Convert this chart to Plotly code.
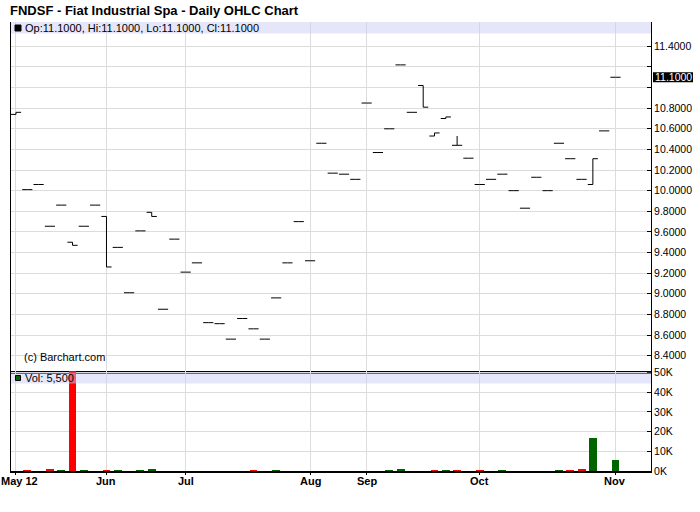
import plotly.graph_objects as go
from plotly.subplots import make_subplots

# ---------------- data ----------------
opens = [10.74, 10.01, 10.06, 9.655, 9.86, 9.50, 9.655, 9.86, 9.75, 9.45,
         9.01, 9.61, 9.79, 8.85, 9.53, 9.21, 9.30, 8.72, 8.71, 8.56,
         8.76, 8.66, 8.56, 8.96, 9.30, 9.70, 9.32, 10.46, 10.17, 10.16,
         10.11, 10.85, 10.37, 10.60, 11.22, 10.76, 11.02, 10.53, 10.70, 10.44,
         10.315, 10.06, 10.11, 10.16, 10.00, 9.83, 10.13, 10.00, 10.46, 10.31,
         10.11, 10.06, 10.58, 11.10]
highs = [10.76, 10.01, 10.06, 9.655, 9.86, 9.50, 9.655, 9.86, 9.75, 9.45,
         9.01, 9.61, 9.79, 8.85, 9.53, 9.21, 9.30, 8.72, 8.71, 8.56,
         8.76, 8.66, 8.56, 8.96, 9.30, 9.70, 9.32, 10.46, 10.17, 10.16,
         10.11, 10.85, 10.37, 10.60, 11.22, 10.76, 11.02, 10.56, 10.715, 10.53,
         10.315, 10.06, 10.11, 10.16, 10.00, 9.83, 10.13, 10.00, 10.46, 10.31,
         10.11, 10.31, 10.58, 11.10]
lows = [10.74, 10.01, 10.06, 9.655, 9.86, 9.47, 9.655, 9.86, 9.26, 9.45,
        9.01, 9.61, 9.75, 8.85, 9.53, 9.21, 9.30, 8.72, 8.71, 8.56,
        8.76, 8.66, 8.56, 8.96, 9.30, 9.70, 9.32, 10.46, 10.17, 10.16,
        10.11, 10.85, 10.37, 10.60, 11.22, 10.76, 10.81, 10.53, 10.70, 10.44,
        10.315, 10.06, 10.11, 10.16, 10.00, 9.83, 10.13, 10.00, 10.46, 10.31,
        10.11, 10.06, 10.58, 11.10]
closes = [10.76, 10.01, 10.06, 9.655, 9.86, 9.47, 9.655, 9.86, 9.26, 9.45,
          9.01, 9.61, 9.75, 8.85, 9.53, 9.21, 9.30, 8.72, 8.71, 8.56,
          8.76, 8.66, 8.56, 8.96, 9.30, 9.70, 9.32, 10.46, 10.17, 10.16,
          10.11, 10.85, 10.37, 10.60, 11.22, 10.76, 10.81, 10.56, 10.715, 10.44,
          10.315, 10.06, 10.11, 10.16, 10.00, 9.83, 10.13, 10.00, 10.46, 10.31,
          10.11, 10.31, 10.58, 11.10]
volumes = [0, 500, 0, 1000, 500, 60000, 500, 0, 500, 500,
           0, 500, 1000, 0, 0, 0, 0, 0, 0, 0,
           0, 500, 0, 500, 0, 0, 0, 0, 0, 0,
           0, 0, 0, 500, 1000, 0, 0, 500, 500, 500,
           0, 500, 0, 500, 0, 0, 0, 0, 500, 500,
           1000, 16700, 0, 5500]

month_tick_idx = [0, 8, 15, 26, 31, 41, 53]
month_labels = ["May 12", "Jun", "Jul", "Aug", "Sep", "Oct", "Nov"]

price_ticks = [8.4, 8.6, 8.8, 9.0, 9.2, 9.4, 9.6, 9.8, 10.0, 10.2, 10.4, 10.6, 10.8, 11.0, 11.2, 11.4]
price_ticktext = ["8.4000", "8.6000", "8.8000", "9.0000", "9.2000", "9.4000", "9.6000", "9.8000",
                  "10.0000", "10.2000", "10.4000", "10.6000", "10.8000", "", "", "11.4000"]
vol_ticks = [0, 10000, 20000, 30000, 40000, 50000]
vol_ticktext = ["0K", "10K", "20K", "30K", "40K", "50K"]

last_price = 11.10
title_text = "FNDSF - Fiat Industrial Spa - Daily OHLC Chart"
price_legend = "Op:11.1000, Hi:11.1000, Lo:11.1000, Cl:11.1000"
vol_legend = "Vol: 5,500"
credit = "(c) Barchart.com"

# ---------------- layout helpers ----------------
W, H = 700, 512
PX_L, PX_R, PX_T, PX_B = 11, 651, 22, 471
PX_SPLIT = 371


def fx(px):
    return (px - PX_L) / (PX_R - PX_L)


def fy(py):
    return (PX_B - py) / (PX_B - PX_T)


FONT = "Liberation Sans, Arial, sans-serif"
GRID = "#dcdcdc"
AXFONT = 10.5

x = list(range(len(closes)))
vol_colors = ["#006400"]
for i in range(1, len(closes)):
    vol_colors.append("#006400" if closes[i] >= closes[i - 1] else "#ff0000")

fig = make_subplots(rows=2, cols=1, shared_xaxes=True, vertical_spacing=0,
                    row_heights=[PX_SPLIT - PX_T, PX_B - PX_SPLIT])

fig.add_trace(go.Ohlc(x=x, open=opens, high=highs, low=lows, close=closes,
                      increasing=dict(line=dict(color="black", width=1)),
                      decreasing=dict(line=dict(color="black", width=1)),
                      tickwidth=0.45, hoverinfo="skip", showlegend=False),
              row=1, col=1)
fig.add_trace(go.Bar(x=x, y=volumes, marker=dict(color=vol_colors, line=dict(width=0)),
                     width=0.7, hoverinfo="skip", showlegend=False),
              row=2, col=1)

# month labels drawn as annotations (the first one sits at the page edge)
xr = [-0.44, 56.14]
fig.update_xaxes(range=xr, tickvals=month_tick_idx, showticklabels=False, automargin=False,
                 showgrid=True, gridcolor=GRID, gridwidth=1, zeroline=False,
                 rangeslider=dict(visible=False))
fig.update_xaxes(row=1, col=1, showline=True, linecolor="black", linewidth=2.5, ticks="")
fig.update_xaxes(row=2, col=1, showline=True, linecolor="black",
                 linewidth=1.5, ticks="outside", ticklen=2, tickcolor="black")

fig.update_yaxes(automargin=False)
fig.update_yaxes(row=1, col=1, side="right", range=[8.251, 11.636],
                 tickvals=price_ticks, ticktext=price_ticktext,
                 showgrid=True, gridcolor=GRID, zeroline=False,
                 showline=True, linecolor="black", linewidth=1, mirror=True,
                 ticks="inside", ticklen=4, tickcolor="black",
                 tickfont=dict(family=FONT, size=AXFONT, color="black"))
fig.update_yaxes(row=2, col=1, side="right", range=[0, 50760],
                 tickvals=vol_ticks, ticktext=vol_ticktext,
                 showgrid=True, gridcolor=GRID, zeroline=False,
                 showline=True, linecolor="black", linewidth=1, mirror=True,
                 ticks="inside", ticklen=4, tickcolor="black",
                 tickfont=dict(family=FONT, size=AXFONT, color="black"))

shapes = []
# legend bands
shapes.append(dict(type="rect", xref="paper", yref="paper", x0=0, x1=1, y0=fy(33.5), y1=fy(PX_T),
                   fillcolor="rgba(205,205,245,0.5)", line=dict(width=0), layer="above"))
shapes.append(dict(type="rect", xref="paper", yref="paper", x0=0, x1=1, y0=fy(383.5), y1=fy(372.5),
                   fillcolor="rgba(205,205,245,0.5)", line=dict(width=0), layer="above"))
# legend squares
shapes.append(dict(type="rect", xref="paper", yref="paper", x0=fx(15), x1=fx(21),
                   y0=fy(31), y1=fy(25), fillcolor="black", line=dict(color="black", width=1)))
shapes.append(dict(type="rect", xref="paper", yref="paper", x0=fx(15.5), x1=fx(20.5),
                   y0=fy(380.5), y1=fy(375.5), fillcolor="#006400", line=dict(color="black", width=1)))
# last price highlight box
ppu = (PX_SPLIT - PX_T) / (11.636 - 8.251)
shapes.append(dict(type="rect", xref="paper", yref="y", x0=fx(653), x1=fx(693),
                   y0=last_price - 5 / ppu, y1=last_price + 5 / ppu,
                   fillcolor="black", line=dict(width=0), layer="above"))

annotations = [
    dict(text=price_legend, xref="paper", yref="paper", x=fx(22.5), y=fy(28), xanchor="left",
         yanchor="middle", showarrow=False, font=dict(family=FONT, size=11, color="black")),
    dict(text=vol_legend, xref="paper", yref="paper", x=fx(22.5), y=fy(378), xanchor="left",
         yanchor="middle", showarrow=False, font=dict(family=FONT, size=11, color="black")),
    dict(text=credit, xref="paper", yref="paper", x=fx(22), y=fy(357), xanchor="left",
         yanchor="middle", showarrow=False, font=dict(family=FONT, size=11, color="black")),
    dict(text=f"{last_price:.4f}", xref="paper", yref="y", x=fx(673), y=last_price, xanchor="center",
         yanchor="middle", showarrow=False, borderpad=0,
         font=dict(family=FONT, size=AXFONT, color="white")),
]
# month labels on the x axis (positioned by the axis scale)
for i, (ti, lab) in enumerate(zip(month_tick_idx, month_labels)):
    if i == 0:
        annotations.append(dict(text=lab, xref="paper", yref="paper", x=fx(0), y=fy(481),
                                xanchor="left", yanchor="middle", showarrow=False, borderpad=0,
                                font=dict(family=FONT, size=11, color="black", weight="bold")))
    else:
        annotations.append(dict(text=lab, xref="x2", yref="paper", x=ti, y=fy(481),
                                xanchor="center", yanchor="middle", showarrow=False, borderpad=0,
                                font=dict(family=FONT, size=11, color="black", weight="bold")))

fig.update_layout(
    width=W, height=H,
    margin=dict(l=PX_L, r=W - PX_R, t=PX_T, b=H - PX_B, autoexpand=False),
    paper_bgcolor="white", plot_bgcolor="white",
    title=dict(text=title_text, x=10 / W, xanchor="left", xref="container",
               y=1 - 10 / H, yanchor="middle", yref="container",
               font=dict(family=FONT, size=13, color="black", weight="bold")),
    shapes=shapes, annotations=annotations,
    bargap=0, showlegend=False,
)

fig.write_html("out.html", config={"displayModeBar": False},
               post_script="document.body.style.margin='0';document.body.style.padding='0';")
